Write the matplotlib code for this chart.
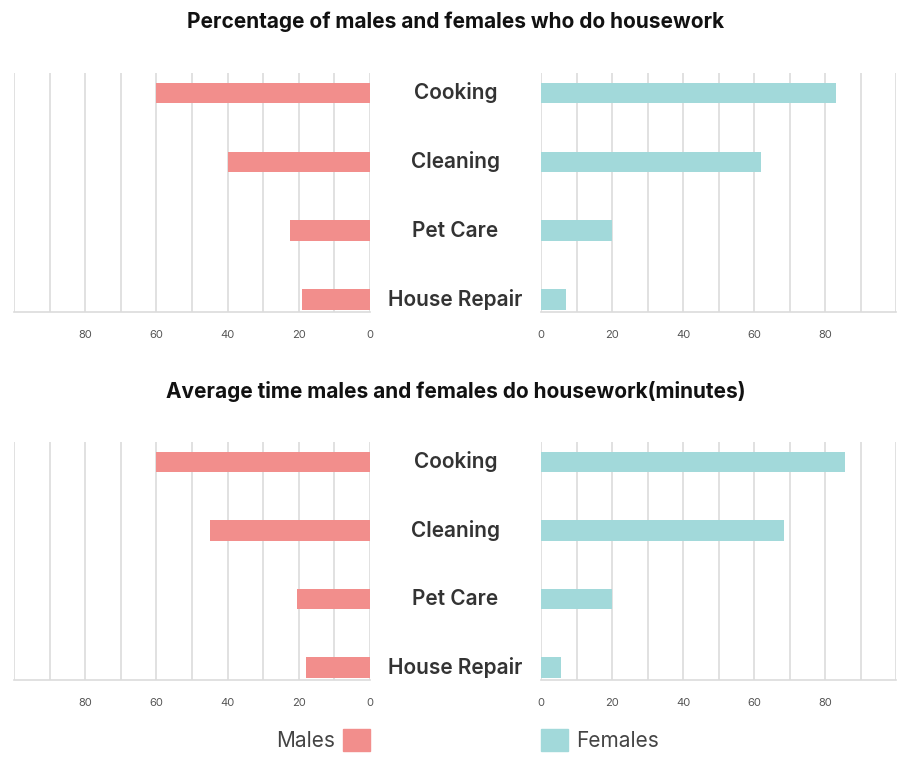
import matplotlib
matplotlib.use("Agg")
import matplotlib.pyplot as plt
import matplotlib.transforms as mtransforms
from matplotlib.patches import Patch

plt.rcParams['font.family'] = ['Inter', 'DejaVu Sans']

categories = ['Cooking', 'Cleaning', 'Pet Care', 'House Repair']
titles = ['Percentage of males and females who do housework',
          'Average time males and females do housework(minutes)']

# top chart: percentage
pct_males = [60, 40, 22.5, 19]
pct_females = [83, 62, 20, 7]
# bottom chart: minutes
min_males = [60, 45, 20.5, 18]
min_females = [85.5, 68.5, 20, 5.5]

male_color = '#f28e8c'
female_color = '#a2d9da'
grid_color = '#dcdcdc'

W, H = 913, 758


def px_box(x0, x1, y0, y1):
    # pixel box -> figure fraction [left, bottom, width, height]
    return [x0 / W, 1 - y1 / H, (x1 - x0) / W, (y1 - y0) / H]


def style_axis(ax):
    for s in ['top', 'left', 'right']:
        ax.spines[s].set_visible(False)
    ax.spines['bottom'].set_color(grid_color)
    ax.spines['bottom'].set_linewidth(1.2)
    ax.set_xticks([0, 20, 40, 60, 80])
    ax.set_xticks(range(0, 101, 10), minor=True)
    ax.grid(True, axis='x', which='both', color=grid_color, linewidth=1.2)
    ax.set_axisbelow(True)
    ax.tick_params(axis='x', which='both', length=0, pad=13,
                   labelsize=8, labelcolor='#555555')
    ax.set_yticks([])
    ax.set_ylim(3.18, -0.29)


def draw_panel(fig, males, females, title, y_top, y_bot, title_y):
    axL = fig.add_axes(px_box(14, 370, y_top, y_bot))
    axR = fig.add_axes(px_box(541, 896, y_top, y_bot))
    ypos = list(range(len(categories)))
    axL.barh(ypos, males, height=0.3, color=male_color)
    axR.barh(ypos, females, height=0.3, color=female_color)
    axL.set_xlim(100, 0)
    axR.set_xlim(0, 100)
    style_axis(axL)
    style_axis(axR)
    trans = mtransforms.blended_transform_factory(fig.transFigure, axL.transData)
    for i, c in enumerate(categories):
        axL.text(455.5 / W, i, c, transform=trans, ha='center', va='center',
                 fontsize=15, fontweight='semibold', color='#333333')
    fig.text(455.5 / W, 1 - title_y / H, title, ha='center', va='center',
             fontsize=15, fontweight='bold', color='#111111')
    return axL, axR


fig = plt.figure(figsize=(W / 100, H / 100), dpi=100)

draw_panel(fig, pct_males, pct_females, titles[0], 73, 312, 22)
draw_panel(fig, min_males, min_females, titles[1], 442, 680, 392)

fig.legend(handles=[Patch(color=male_color)], labels=['Males'],
           loc='center right', bbox_to_anchor=(370 / W, 1 - 740 / H),
           markerfirst=False, frameon=False, fontsize=15,
           handlelength=1.3, handleheight=1.3, handletextpad=0.4,
           labelcolor='#444444', borderpad=0, borderaxespad=0)
fig.legend(handles=[Patch(color=female_color)], labels=['Females'],
           loc='center left', bbox_to_anchor=(541 / W, 1 - 740 / H),
           frameon=False, fontsize=15,
           handlelength=1.3, handleheight=1.3, handletextpad=0.4,
           labelcolor='#444444', borderpad=0, borderaxespad=0)

fig.savefig('out.png', dpi=100)
